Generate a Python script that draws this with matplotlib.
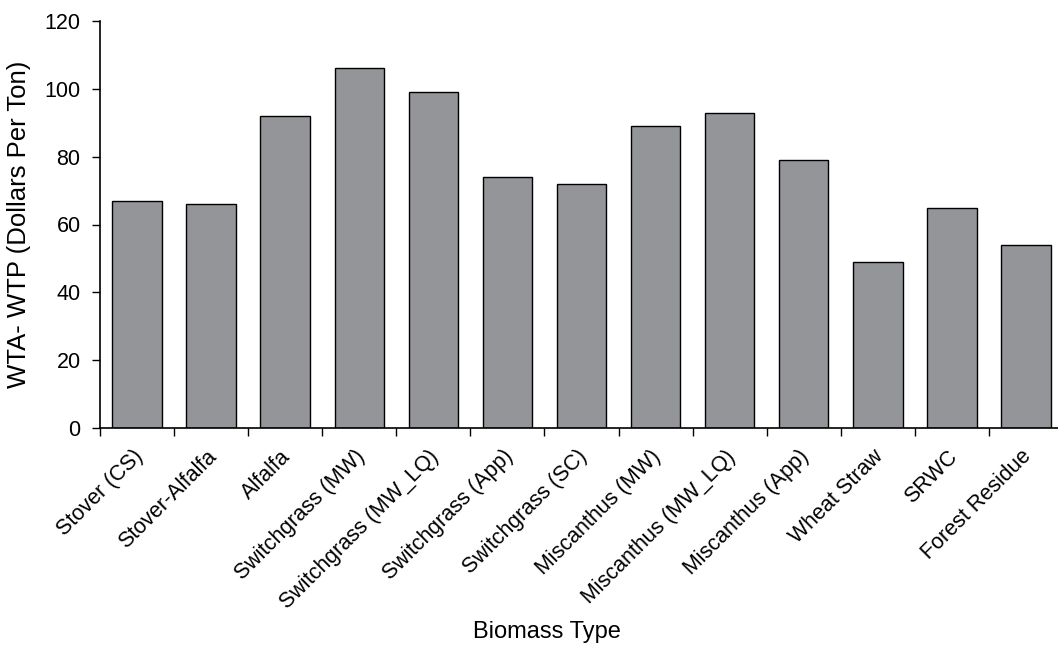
import numpy as np
import matplotlib.pyplot as plt
from matplotlib.transforms import ScaledTranslation

plt.rcParams['font.family'] = ['Liberation Sans', 'DejaVu Sans']

biomass = ['Stover (CS)', 'Stover-Alfalfa', 'Alfalfa', 'Switchgrass (MW)',
           'Switchgrass (MW_LQ)', 'Switchgrass (App)', 'Switchgrass (SC)',
           'Miscanthus (MW)', 'Miscanthus (MW_LQ)', 'Miscanthus (App)',
           'Wheat Straw', 'SRWC', 'Forest Residue']
wta_wtp = [67, 66, 92, 106, 99, 74, 72, 89, 93, 79, 49, 65, 54]

fig = plt.figure(figsize=(10.58, 6.46), dpi=100)
ax = fig.add_axes([100 / 1058, 218 / 646, 963 / 1058, 407 / 646])

x = np.arange(len(biomass))
ax.bar(x, wta_wtp, width=0.667, color='#939598', edgecolor='black', linewidth=1.0, zorder=2)

ax.set_xlim(-0.5, len(biomass) - 0.5)
ax.set_ylim(0, 120)
ax.set_yticks(np.arange(0, 121, 20))
ax.tick_params(axis='y', labelsize=15.5, length=6, width=1, direction='out', pad=8)

# ticks at category boundaries, labels at bar centres
ax.set_xticks(np.arange(-0.5, len(biomass), 1.0))
ax.set_xticklabels([])
ax.set_xticks(x, minor=True)
ax.set_xticklabels(biomass, minor=True, rotation=45, ha='right', va='top',
                   rotation_mode='anchor', fontsize=15.5)
ax.tick_params(axis='x', which='major', length=6, width=1, direction='out')
ax.tick_params(axis='x', which='minor', length=0, pad=13)
shift = ScaledTranslation(-5 / 100, 0, fig.dpi_scale_trans)
for lab in ax.get_xticklabels(minor=True):
    lab.set_transform(lab.get_transform() + shift)

for side in ['top', 'right']:
    ax.spines[side].set_visible(False)
ax.spines['left'].set_linewidth(1.2)
ax.spines['bottom'].set_linewidth(1.2)

ax.set_ylabel('WTA- WTP (Dollars Per Ton)', fontsize=18.5, labelpad=10)
fig.text(547 / 1058, 1 - 632 / 646, 'Biomass Type', fontsize=17, ha='center', va='center')

fig.savefig('out.png', dpi=100)
